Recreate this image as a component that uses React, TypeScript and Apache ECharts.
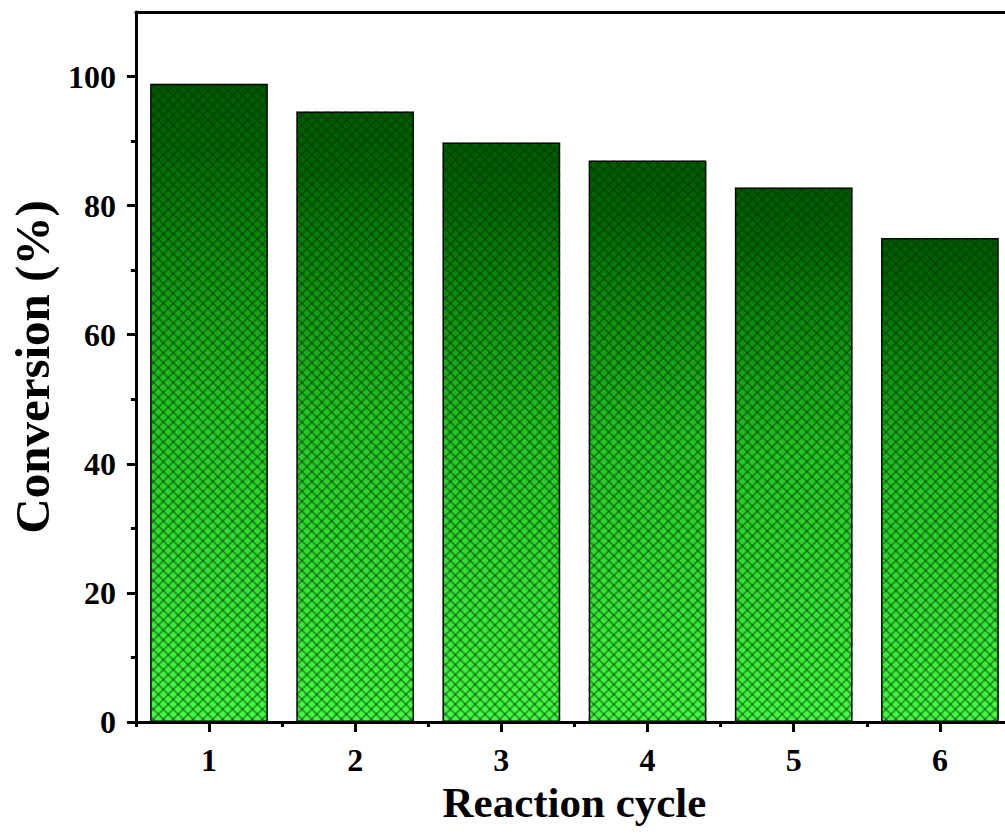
import React, { useEffect, useRef } from "react";
import * as echarts from "echarts";

const categories = ["1", "2", "3", "4", "5", "6"];
const conversion = [98.9, 94.6, 89.8, 87.0, 82.8, 75.0];
const majorTicks = [0, 20, 40, 60, 80, 100];
const minorTicks = [10, 30, 50, 70, 90];

const FONT = "'Liberation Serif', 'Times New Roman', serif";

export default function App() {
  const ref = useRef<HTMLDivElement>(null);
  useEffect(() => {
    document.body.style.margin = "0";
    const chart = echarts.init(ref.current!, null, { renderer: "svg" });
    const gradient = new echarts.graphic.LinearGradient(0, 0, 0, 1, [
      { offset: 0, color: "#005a00" },
      { offset: 0.1, color: "#006600" },
      { offset: 0.5, color: "#25c525" },
      { offset: 1, color: "#44fa44" },
    ]);
    const hatch = (rot: number) => ({
      symbol: "rect",
      symbolSize: 1,
      dashArrayX: [1, 0],
      dashArrayY: [1.5, 4.5],
      rotation: rot,
      color: "rgba(0,50,0,0.42)",
    });
    const axisLine = { show: true, lineStyle: { color: "#000", width: 3 } };
    chart.setOption({
      animation: false,
      backgroundColor: "#fff",
      grid: { left: 133, top: 12, right: 0, bottom: 116, containLabel: false },
      xAxis: [
        {
          type: "category",
          data: categories,
          position: "bottom",
          axisLine,
          axisTick: { show: true, alignWithLabel: true, length: 10, lineStyle: { width: 3, color: "#000" } },
          axisLabel: { fontFamily: FONT, fontWeight: "bold", fontSize: 32, color: "#000", margin: 22 },
          name: "Reaction cycle",
          nameLocation: "middle",
          nameGap: 33,
          nameTextStyle: { fontFamily: FONT, fontWeight: "bold", fontSize: 43, color: "#000" },
        },
        {
          type: "category",
          data: categories,
          position: "bottom",
          axisLine: { show: false },
          axisTick: { show: true, length: 5, lineStyle: { width: 3, color: "#000" } },
          axisLabel: { show: false },
        },
        {
          type: "category",
          data: categories,
          position: "top",
          axisLine,
          axisTick: { show: false },
          axisLabel: { show: false },
        },
      ],
      yAxis: [
        {
          type: "value",
          min: 0,
          max: 110,
          interval: 10,
          position: "left",
          axisLine,
          splitLine: { show: false },
          axisTick: { show: true, length: 9, customValues: majorTicks, lineStyle: { width: 3, color: "#000" } },
          axisLabel: {
            customValues: majorTicks,
            fontFamily: FONT,
            fontWeight: "bold",
            fontSize: 32,
            color: "#000",
            margin: 20,
          },
          name: "Conversion (%)",
          nameLocation: "middle",
          nameGap: 74,
          nameTextStyle: { fontFamily: FONT, fontWeight: "bold", fontSize: 49, color: "#000" },
        },
        {
          type: "value",
          min: 0,
          max: 110,
          interval: 10,
          position: "left",
          axisLine: { show: false },
          splitLine: { show: false },
          axisTick: { show: true, length: 5, customValues: minorTicks, lineStyle: { width: 3, color: "#000" } },
          axisLabel: { show: false },
        },
      ],
      series: [
        {
          type: "bar",
          data: conversion,
          barWidth: "80.5%",
          barGap: "-100%",
          itemStyle: { color: gradient, borderColor: "#000", borderWidth: 1.5 },
        },
        {
          type: "bar",
          data: conversion,
          barWidth: "80.5%",
          barGap: "-100%",
          itemStyle: { color: "rgba(0,0,0,0)", decal: hatch(Math.PI / 4) },
          silent: true,
        },
        {
          type: "bar",
          data: conversion,
          barWidth: "80.5%",
          barGap: "-100%",
          itemStyle: { color: "rgba(0,0,0,0)", decal: hatch(-Math.PI / 4) },
          silent: true,
        },
      ],
    });
    return () => chart.dispose();
  }, []);
  return (
    <div style={{ width: 1005, height: 838, overflow: "hidden" }}>
      <div ref={ref} style={{ width: 1013, height: 838 }} />
    </div>
  );
}
